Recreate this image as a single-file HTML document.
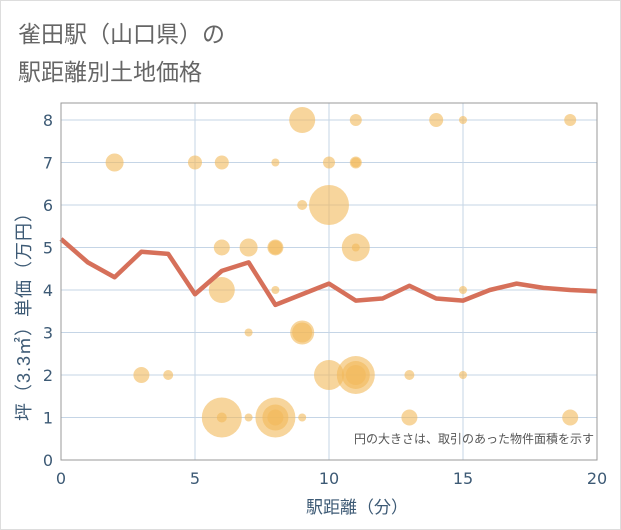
<!DOCTYPE html>
<html><head><meta charset="utf-8"><style>
body{margin:0;background:#fff;font-family:"Liberation Sans","Noto Sans CJK JP",sans-serif}
svg{display:block}
</style></head><body>
<svg id="c" width="621" height="530" xmlns="http://www.w3.org/2000/svg">
<rect x="0.5" y="0.5" width="620" height="529" fill="#fff" stroke="#ddd"/>
<text x="18" y="42" font-size="23" fill="#666">雀田駅（山口県）の</text>
<text x="18" y="80" font-size="23" fill="#666">駅距離別土地価格</text>
<g id="grid"></g><g id="bubbles"></g><g id="line"></g><g id="axes"></g>
<text x="594" y="443" font-size="12" fill="#555" text-anchor="end">円の大きさは、取引のあった物件面積を示す</text>
<text x="357" y="513" font-size="17" fill="#3d5a75" text-anchor="middle">駅距離（分）</text>
<text transform="translate(30,312) rotate(-90)" font-size="18" letter-spacing="1" fill="#3d5a75" text-anchor="middle">坪（3.3㎡）単価（万円）</text>
</svg>
<script>
const xTicks=[0,5,10,15,20];
const yTicks=[0,1,2,3,4,5,6,7,8];
const lineX=[0,1,2,3,4,5,6,7,8,9,10,11,12,13,14,15,16,17,18,19,20];
const lineY=[5.2,4.65,4.3,4.9,4.85,3.9,4.45,4.65,3.65,3.9,4.15,3.75,3.8,4.1,3.8,3.75,4.0,4.15,4.05,4.0,3.97];
const bubX=[9,11,14,15,19,2,5,6,8,10,11,11,9,10,6,7,8,8,11,11,6,8,15,7,9,9,3,4,10,11,11,11,13,15,6,6,7,8,8,8,9,13,19];
const bubY=[8,8,8,8,8,7,7,7,7,7,7,7,6,6,5,5,5,5,5,5,4,4,4,3,3,3,2,2,2,2,2,2,2,2,1,1,1,1,1,1,1,1,1];
const bubSize=[13,6,7,4,6,9,7,7,4,6,6,5,5,20,8,9,8,7,14,4,13,4,4,4,12,10,8,5,15,19,14,10,5,4,20,5,4,20,13,8,4,8,8];
const X0=61,X1=597,Y0=460,Y1=103;
const sx=v=>X0+(v-0)/(20)*(X1-X0);
const sy=v=>460-v*42.5;
const NS='http://www.w3.org/2000/svg';
function mk(t,a,p){const e=document.createElementNS(NS,t);for(const k in a)e.setAttribute(k,a[k]);p.appendChild(e);return e;}
const grid=document.getElementById('grid'),axes=document.getElementById('axes');
yTicks.forEach(v=>{const l=mk('line',{x1:X0,x2:X1,y1:sy(v),y2:sy(v),stroke:'#c5d5e6','stroke-width':1},grid);

const t=mk('text',{x:X0-8,y:sy(v)+6,'font-size':16,fill:'#3d5a75','text-anchor':'end','font-family':'DejaVu Sans, sans-serif'},axes);t.textContent=v;
});
xTicks.forEach(v=>{const l=mk('line',{x1:sx(v),x2:sx(v),y1:Y1,y2:Y0,stroke:'#c5d5e6','stroke-width':1},grid);

const t=mk('text',{x:sx(v),y:Y0+24,'font-size':16,fill:'#3d5a75','text-anchor':'middle','font-family':'DejaVu Sans, sans-serif'},axes);t.textContent=v;
});
const fr=mk('rect',{x:X0,y:Y1,width:X1-X0,height:Y0-Y1,fill:'none',stroke:'#999','stroke-width':1},axes);

const bg=document.getElementById('bubbles');
bubX.forEach((x,i)=>{const c=mk('circle',{cx:sx(x),cy:sy(bubY[i]),r:bubSize[i],fill:'#f2b95a','fill-opacity':0.6},bg);
});
const pl=mk('polyline',{points:lineX.map((x,i)=>sx(x)+','+sy(lineY[i])).join(' '),fill:'none',stroke:'#d6705a','stroke-width':4.5,'stroke-linejoin':'round'},document.getElementById('line'));

</script>
</body></html>
